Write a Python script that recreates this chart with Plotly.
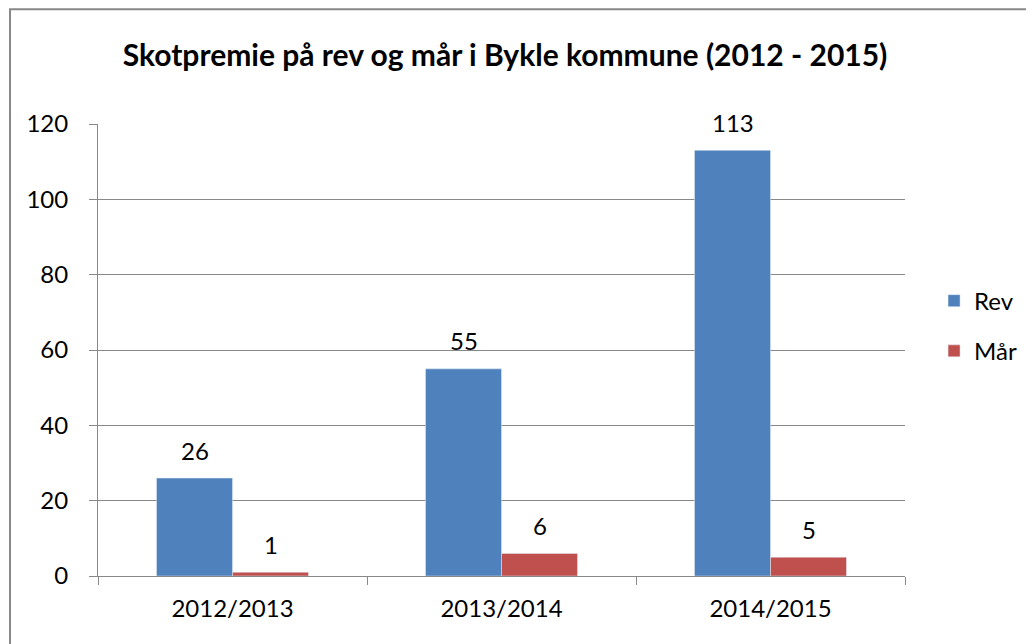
import plotly.graph_objects as go

categories = ["2012/2013", "2013/2014", "2014/2015"]
rev = [26, 55, 113]
mar = [1, 6, 5]
y_ticks = [0, 20, 40, 60, 80, 100, 120]

FONT = "Lato, 'Open Sans', sans-serif"

fig = go.Figure()
fig.add_trace(go.Bar(name="Rev", x=categories, y=rev, marker_color="#4F81BD",
                     legendgroup="a"))
fig.add_trace(go.Bar(name="Mår", x=categories, y=mar, marker_color="#C0504D",
                     legendgroup="b"))

annotations = []
for series, shift in ((rev, -38), (mar, 38)):
    for cat, val in zip(categories, series):
        annotations.append(dict(x=cat, y=val, xref="x", yref="y", text=str(val),
                                showarrow=False, xshift=shift, yshift=28,
                                xanchor="center", yanchor="middle",
                                font=dict(size=24, family=FONT, color="#000")))

fig.update_layout(
    width=1034, height=644,
    margin=dict(l=90, r=137, t=116, b=76),
    paper_bgcolor="white", plot_bgcolor="white",
    font=dict(family=FONT, size=24, color="#000"),
    barmode="group", bargap=0.435, bargroupgap=0,
    title=dict(text="<b>Skotpremie på rev og mår i Bykle kommune (2012 - 2015)</b>",
               x=0.4807, xanchor="center", y=0.927, yanchor="middle",
               font=dict(size=30, family=FONT, color="#000")),
    legend=dict(x=1.036, y=0.553, xanchor="left", yanchor="middle",
                font=dict(size=24), tracegroupgap=16, itemwidth=30),
    xaxis=dict(showline=True, linecolor="#888", linewidth=1, ticks="outside",
               tickson="boundaries", ticklen=8, tickcolor="#888",
               tickfont=dict(size=24), ticklabelstandoff=11),
    yaxis=dict(range=[0, 120], tickvals=y_ticks, showgrid=True, gridcolor="#888",
               gridwidth=1, showline=True, linecolor="#888", linewidth=1,
               ticks="outside", ticklen=8, tickcolor="#888", zeroline=False,
               tickfont=dict(size=24), ticklabelstandoff=16),
    annotations=annotations,
    shapes=[dict(type="rect", xref="paper", yref="paper",
                 x0=-0.109, x1=1.1586, y0=-0.3, y1=1.254,
                 line=dict(color="#888", width=2), fillcolor="rgba(0,0,0,0)", layer="below")],
)

fig.write_html("out.html")
